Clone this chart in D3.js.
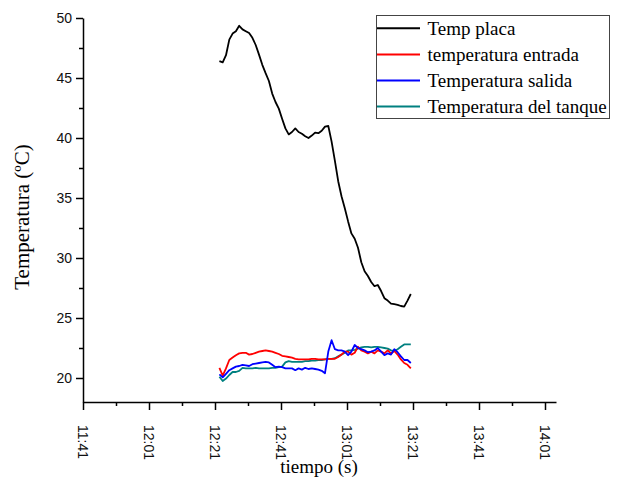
<!DOCTYPE html>
<html><head><meta charset="utf-8">
<script src="https://cdn.jsdelivr.net/npm/d3@7"></script>
<style>
html,body{margin:0;padding:0;background:#fff;}
svg{display:block;}
</style>
</head><body>
<svg id="chart" width="626" height="480"></svg>
<script>
// ---- data ----
const tiempo = ["12:22:20","12:23:20","12:24:20","12:25:20","12:26:20","12:27:20","12:28:20","12:29:20","12:30:20","12:31:20",
"12:32:20","12:33:20","12:34:20","12:35:20","12:36:20","12:37:20","12:38:20","12:39:20","12:40:20","12:41:20",
"12:42:20","12:43:20","12:44:20","12:45:20","12:46:20","12:47:20","12:48:20","12:49:20","12:50:20","12:51:20",
"12:52:20","12:53:20","12:54:20","12:55:20","12:56:20","12:57:20","12:58:20","12:59:20","13:00:20","13:01:20",
"13:02:20","13:03:20","13:04:20","13:05:20","13:06:20","13:07:20","13:08:20","13:09:20","13:10:20","13:11:20",
"13:12:20","13:13:20","13:14:20","13:15:20","13:16:20","13:17:20","13:18:20","13:19:20","13:20:20"];

const tempPlaca = [46.4,46.3,46.9,48.2,48.7,48.9,49.35,49.05,48.9,48.75,
48.35,47.75,46.95,46.1,45.4,44.75,43.7,43.0,42.45,41.6,
40.8,40.3,40.5,40.8,40.5,40.35,40.15,40.0,40.2,40.45,
40.4,40.6,40.95,41.0,39.7,38.1,36.4,35.15,34.15,33.05,
32.05,31.6,30.85,29.65,28.9,28.5,28.0,27.65,27.75,27.25,
26.65,26.45,26.2,26.15,26.1,26.0,25.95,26.45,27.0];

const tempEntrada = [20.85,20.2,20.8,21.5,21.7,21.9,22.05,22.1,22.1,21.95,
22.0,22.1,22.2,22.25,22.3,22.25,22.2,22.1,22.0,21.85,
21.8,21.75,21.7,21.6,21.55,21.55,21.55,21.55,21.6,21.6,
21.55,21.55,21.55,21.6,21.6,21.6,21.75,21.95,22.2,22.2,
21.95,22.1,22.6,22.3,22.2,22.05,22.2,22.05,22.3,22.2,
22.05,22.3,22.05,22.25,21.95,21.55,21.25,21.1,20.8];

const tempSalida = [20.3,20.05,20.35,20.65,20.8,20.95,21.0,21.1,21.05,21.0,
21.15,21.2,21.25,21.3,21.35,21.3,21.1,20.9,20.95,20.9,
20.8,20.8,20.8,20.65,20.8,20.7,20.85,20.75,20.8,20.75,
20.7,20.6,20.4,22.2,23.15,22.4,22.3,22.3,22.2,21.9,
22.2,22.75,22.5,22.4,22.3,22.15,22.2,22.3,22.5,22.2,
21.9,22.05,21.95,22.4,22.15,21.8,21.5,21.5,21.25];

const tempTanque = [20.1,19.75,19.95,20.25,20.5,20.5,20.6,20.85,20.8,20.8,
20.8,20.85,20.8,20.8,20.8,20.8,20.85,20.85,20.9,20.95,
21.3,21.4,21.35,21.35,21.35,21.35,21.4,21.4,21.45,21.45,
21.5,21.5,21.55,21.6,21.6,21.65,21.8,21.95,22.1,22.3,
22.3,22.35,22.45,22.55,22.6,22.6,22.55,22.6,22.6,22.55,
22.5,22.45,22.3,22.25,22.4,22.6,22.8,22.8,22.8];

const seriesNames = ["Temp placa","temperatura entrada","Temperatura salida","Temperatura del tanque"];
const seriesColors = ["#000000","#ff0000","#0000ff","#008080"];
const xTickLabels = ["11:41","12:01","12:21","12:41","13:01","13:21","13:41","14:01"];
const yTickValues = [20,25,30,35,40,45,50];
const xDomain = ["11:41:00","14:04:20"];
const yDomain = [18,50];

// ---- chart ----
const parseT = d3.timeParse("%H:%M:%S");
const parseTick = d3.timeParse("%H:%M");
const svg = d3.select("#chart");

const x = d3.scaleTime().domain(xDomain.map(parseT)).range([83, 556]);
const y = d3.scaleLinear().domain(yDomain).range([402, 18]);

const sans = "'Liberation Sans', Arial, sans-serif";
const serif = "'Liberation Serif', 'Times New Roman', serif";

// minor ticks
const xMajor = xTickLabels.map(parseTick);
const xMinor = [];
for (let i = 0; i < xMajor.length; i++) {
  const m = new Date(xMajor[i].getTime() + 10*60000);
  if (m <= x.domain()[1]) xMinor.push(m);
}
const yMinor = yTickValues.map(v => v + 2.5).filter(v => v <= yDomain[1]);

const gx = svg.append("g").attr("transform","translate(0,402)");
gx.append("g").call(d3.axisBottom(x).tickValues(xMinor).tickSize(4).tickFormat(""))
  .call(g => g.select(".domain").remove());
gx.append("g").call(d3.axisBottom(x).tickValues(xMajor).tickSize(8).tickSizeOuter(0).tickFormat(""));
gx.selectAll("line").attr("stroke","#000").attr("stroke-width",1.5);
gx.selectAll(".domain").attr("stroke","#000").attr("stroke-width",1.5);

gx.selectAll(".xlab").data(xTickLabels).enter().append("text")
  .attr("transform", d => `translate(${x(parseTick(d))},23) rotate(90)`)
  .attr("dy","0.35em")
  .attr("text-anchor","start")
  .attr("font-family", sans).attr("font-size", 14).attr("fill","#111")
  .text(d => d);

const gy = svg.append("g").attr("transform","translate(83,0)");
gy.append("g").call(d3.axisLeft(y).tickValues(yMinor).tickSize(4).tickFormat(""))
  .call(g => g.select(".domain").remove());
gy.append("g").call(d3.axisLeft(y).tickValues(yTickValues).tickSize(7).tickSizeOuter(0).tickPadding(4))
  .call(g => g.selectAll("text").attr("font-family", sans).attr("font-size", 14).attr("fill","#111"));
gy.selectAll("line").attr("stroke","#000").attr("stroke-width",1.5);
gy.selectAll(".domain").attr("stroke","#000").attr("stroke-width",1.5);

// axis titles
svg.append("text").attr("x",319).attr("y",473).attr("text-anchor","middle")
  .attr("font-family", serif).attr("font-size",19).attr("fill","#000").text("tiempo (s)");
svg.append("text").attr("transform","translate(29,217) rotate(-90)").attr("text-anchor","middle")
  .attr("font-family", serif).attr("font-size",21).attr("fill","#000").text("Temperatura (ºC)");

// lines
const allSeries = [tempPlaca, tempEntrada, tempSalida, tempTanque];
const times = tiempo.map(parseT);
const line = d3.line().x((d,i) => x(times[i])).y(d => y(d));
// draw order: colored lower series, then black
[3,1,2,0].forEach(si => {
  svg.append("path").datum(allSeries[si])
    .attr("d", line).attr("fill","none")
    .attr("stroke", seriesColors[si]).attr("stroke-width", 1.8)
    .attr("stroke-linejoin","round");
});

// legend
const lg = svg.append("g");
lg.append("rect").attr("x",376.5).attr("y",15.5).attr("width",233).attr("height",103)
  .attr("fill","#fff").attr("stroke","#444").attr("stroke-width",1);
seriesNames.forEach((n,i) => {
  const yy = 28.3 + i*26.1;
  lg.append("line").attr("x1",377).attr("x2",420).attr("y1",yy).attr("y2",yy)
    .attr("stroke",seriesColors[i]).attr("stroke-width",2);
  lg.append("text").attr("x",427.5).attr("y",yy+6.5)
    .attr("font-family", serif).attr("font-size",19).attr("fill","#000").text(n);
});
</script>
</body></html>
